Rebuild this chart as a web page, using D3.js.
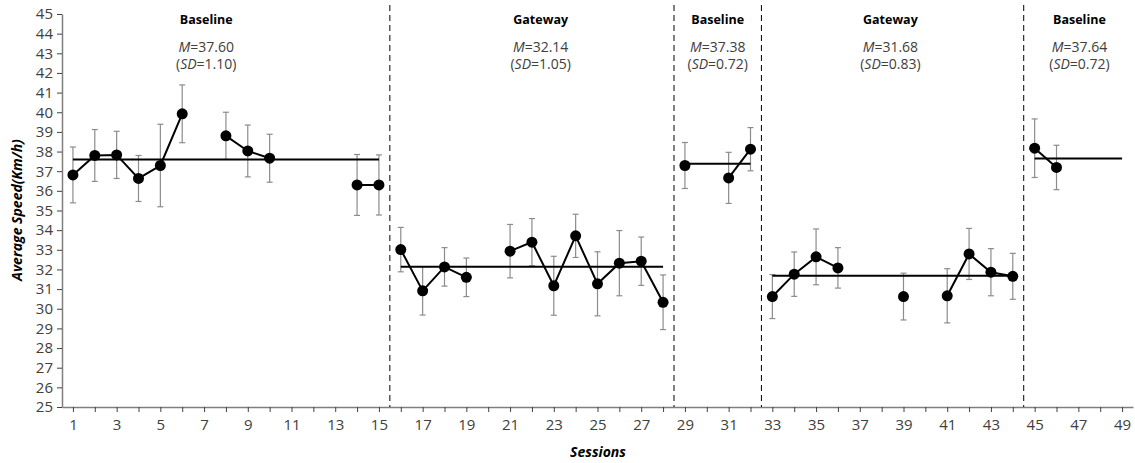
<!DOCTYPE html>
<html>
<head lang="en">
    <meta charset="UTF-8">
    <title>Average Speed</title>
    <script src="https://cdn.jsdelivr.net/npm/d3@7/dist/d3.min.js"></script>
    <style>
        body{margin:0;background:#fff;}
        text{font-family:"Open Sans","Noto Sans",sans-serif;}
    </style>
</head>
<body>
<div id="chart"></div>
<script>
    // sessions 1..49, null = no measurement
    var sessions=d3.range(1,50);
    var speed=[36.81,37.80,37.83,36.63,37.29,39.92,null,38.80,38.03,37.66,null,null,null,36.30,36.30,
               33.01,30.91,32.13,31.60,null,32.93,33.39,31.17,33.71,31.27,32.32,32.42,30.33,
               37.29,null,36.66,38.12,
               30.62,31.76,32.64,32.08,null,null,30.62,null,30.66,32.79,31.86,31.65,
               38.17,37.19,null,null,null];
    var sd=[1.42,1.32,1.20,1.17,2.10,1.47,null,1.20,1.32,1.22,null,null,null,1.55,1.53,
            1.13,1.23,0.98,0.98,null,1.36,1.20,1.50,1.10,1.63,1.66,1.23,1.39,
            1.17,null,1.30,1.10,
            1.12,1.13,1.42,1.03,null,null,1.19,null,1.38,1.30,1.20,1.17,
            1.49,1.13,null,null,null];
    // phases
    var phaseNames=['Baseline','Gateway','Baseline','Gateway','Baseline'];
    var phaseStart=[1,16,29,33,45];
    var phaseEnd=[15,28,32,44,49];
    var phaseMean=[37.60,32.14,37.38,31.68,37.64];
    var phaseSD=[1.10,1.05,0.72,0.83,0.72];
    var phaseLabelX=[7.1,22.4,30.5,38.4,47.05];
    var yTicks=d3.range(25,46);

    var width=1135,height=463;
    var svg=d3.select('#chart').append('svg')
            .attr('width',width)
            .attr('height',height);

    var x=d3.scaleLinear().domain([0.5,49.5]).range([62,1133]);
    var y=d3.scaleLinear().domain([25,45]).range([407,14]);

    //y axis
    var gy=svg.append('g').attr('transform','translate(62,0)')
            .call(d3.axisLeft(y).tickValues(yTicks).tickSize(5).tickSizeOuter(0).tickPadding(4));
    gy.select('.domain').attr('stroke','#7f7f7f').attr('stroke-width',1.5);
    gy.selectAll('.tick line').attr('stroke','#404040');
    gy.selectAll('.tick text').attr('fill','#404040').style('font-size','15px');

    //x axis
    var gx=svg.append('g').attr('transform','translate(0,407)')
            .call(d3.axisBottom(x).tickValues(sessions).tickSize(5).tickSizeOuter(0).tickPadding(7)
                .tickFormat(function(d){return d%2===1?d:'';}));
    gx.select('.domain').attr('stroke','#7f7f7f').attr('stroke-width',1.5);
    gx.selectAll('.tick line').attr('stroke','#404040');
    gx.selectAll('.tick text').attr('fill','#404040').style('font-size','15px');

    //axis titles
    svg.append('text')
            .attr('transform','translate(22,210) rotate(-90)')
            .attr('text-anchor','middle')
            .style('font-size','14px').style('font-weight','bold').style('font-style','italic')
            .attr('fill','#000')
            .text('Average Speed(Km/h)');
    svg.append('text')
            .attr('x',598).attr('y',457)
            .attr('text-anchor','middle')
            .style('font-size','14px').style('font-weight','bold').style('font-style','italic')
            .attr('fill','#000')
            .text('Sessions');

    //phase change lines
    var bounds=phaseEnd.slice(0,4);
    svg.append('g').selectAll('line').data(bounds).enter()
            .append('line')
            .attr('x1',function(d){return x(d+0.5);})
            .attr('x2',function(d){return x(d+0.5);})
            .attr('y1',5).attr('y2',407)
            .attr('stroke','#000').attr('stroke-width',1)
            .attr('stroke-dasharray','6,4');

    //phase labels
    var gl=svg.append('g');
    phaseNames.forEach(function(n,i){
        var cx=x(phaseLabelX[i]);
        gl.append('text').attr('x',cx).attr('y',24).attr('text-anchor','middle')
                .style('font-size','12.5px').style('font-weight','bold').attr('fill','#000').text(n);
        var t1=gl.append('text').attr('x',cx).attr('y',52).attr('text-anchor','middle')
                .style('font-size','14px').attr('fill','#404040');
        t1.append('tspan').style('font-style','italic').text('M');
        t1.append('tspan').text('='+phaseMean[i].toFixed(2));
        var t2=gl.append('text').attr('x',cx).attr('y',69).attr('text-anchor','middle')
                .style('font-size','14px').attr('fill','#404040');
        t2.append('tspan').text('(');
        t2.append('tspan').style('font-style','italic').text('SD');
        t2.append('tspan').text('='+phaseSD[i].toFixed(2)+')');
    });

    var data=sessions.map(function(s,i){
        var p=phaseStart.filter(function(st){return s>=st;}).length-1;
        return {s:s,v:speed[i],e:sd[i],p:p};
    });
    var valid=data.filter(function(d){return d.v!==null;});

    //error bars
    var ge=svg.append('g').attr('stroke','#8c8c8c').attr('stroke-width',1.2);
    valid.forEach(function(d){
        var cx=x(d.s);
        ge.append('line').attr('x1',cx).attr('x2',cx).attr('y1',y(d.v-d.e)).attr('y2',y(d.v+d.e));
        ge.append('line').attr('x1',cx-3).attr('x2',cx+3).attr('y1',y(d.v-d.e)).attr('y2',y(d.v-d.e));
        ge.append('line').attr('x1',cx-3).attr('x2',cx+3).attr('y1',y(d.v+d.e)).attr('y2',y(d.v+d.e));
    });

    //mean lines
    svg.append('g').selectAll('line').data(phaseMean).enter()
            .append('line')
            .attr('x1',function(d,i){return x(phaseStart[i]);})
            .attr('x2',function(d,i){return x(phaseEnd[i]);})
            .attr('y1',function(d){return y(d);})
            .attr('y2',function(d){return y(d);})
            .attr('stroke','#000').attr('stroke-width',2);

    //data lines, one per phase, broken at missing sessions
    var line=d3.line()
            .defined(function(d){return d.v!==null;})
            .x(function(d){return x(d.s);})
            .y(function(d){return y(d.v);});
    phaseStart.forEach(function(st,i){
        var seg=data.filter(function(d){return d.p===i;});
        svg.append('path')
                .attr('d',line(seg))
                .attr('fill','none')
                .attr('stroke','#000')
                .attr('stroke-width',2);
    });

    //points
    svg.append('g').selectAll('circle').data(valid).enter()
            .append('circle')
            .attr('cx',function(d){return x(d.s);})
            .attr('cy',function(d){return y(d.v);})
            .attr('r',5.5)
            .attr('fill','#000');
</script>
</body>
</html>
